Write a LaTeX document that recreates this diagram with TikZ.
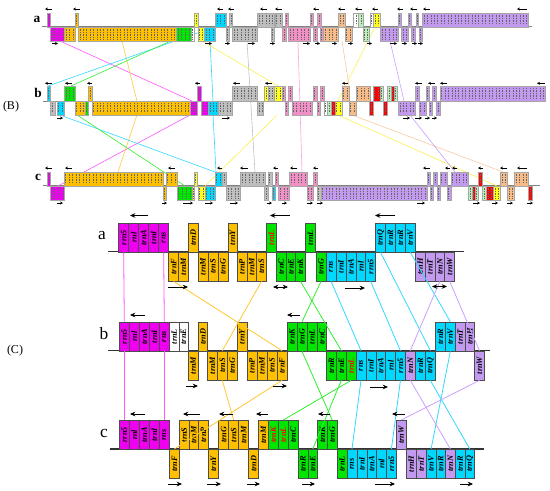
\documentclass[tikz,border=0pt]{standalone}
\usepackage{fontspec}
\setmainfont{Liberation Serif}
\usetikzlibrary{arrows.meta}
\definecolor{cmag}{HTML}{F000F0}
\definecolor{corg}{HTML}{FFC000}
\definecolor{cgrn}{HTML}{00E600}
\definecolor{ccyn}{HTML}{00D8FF}
\definecolor{cgry}{HTML}{BFBFBF}
\definecolor{cpnk}{HTML}{F490C8}
\definecolor{cpch}{HTML}{F8BC88}
\definecolor{clgr}{HTML}{B8F0B8}
\definecolor{cred}{HTML}{FF0000}
\definecolor{cyel}{HTML}{FFFF20}
\definecolor{cpur}{HTML}{C49AF0}
\definecolor{lmag}{HTML}{FF55FF}
\definecolor{lorg}{HTML}{FFC830}
\definecolor{lgrn}{HTML}{30F030}
\definecolor{lcyn}{HTML}{30D8FF}
\definecolor{lyel}{HTML}{F8F050}
\definecolor{lgry}{HTML}{C0C0C0}
\definecolor{lpnk}{HTML}{FFA0D8}
\definecolor{lpch}{HTML}{F8C8A0}
\definecolor{lpur}{HTML}{C8A0FF}
\newcommand\bx[5]{%
  \filldraw[fill=#5,draw=black!35,line width=0.3pt] (#1,#3) rectangle (#2,#4);
  \pgfmathtruncatemacro\bxn{max(1,round((#2-#1)/3.4))}%
  \pgfmathsetmacro\bxw{(#2-#1)/\bxn}%
  \foreach \k in {1,...,\bxn}{\draw[black!60,line width=0.35pt,dash pattern=on 0.8pt off 0.45pt] ({#1+(\k-0.5)*\bxw},{#3+2}) -- ({#1+(\k-0.5)*\bxw},{#4-2});}%
}
% row a of panel B
\newcommand\aU[3]{\bx{#1}{#2}{12.7}{26.7}{#3}}
\newcommand\aL[3]{\bx{#1}{#2}{26.7}{41}{#3}}
\newcommand\bU[3]{\bx{#1}{#2}{86}{101}{#3}}
\newcommand\bL[3]{\bx{#1}{#2}{101}{115}{#3}}
\newcommand\cU[3]{\bx{#1}{#2}{171.7}{185.7}{#3}}
\newcommand\cL[3]{\bx{#1}{#2}{185.7}{200}{#3}}
\newcommand\sla[3]{\draw[sarr] (#2,#3) -- (#1,#3);}
\newcommand\sra[3]{\draw[sarr] (#1,#3) -- (#2,#3);}
\newcommand\G[6]{\node[gene,fill=#5,minimum width={(#3-#2)*0.75pt},anchor=north west] (#1) at (#2,#4) {\rotatebox{90}{#6}};}
\newcommand\R[1]{\textcolor{red}{#1}}
\tikzset{
  sarr/.style={-{Stealth[length=2.2pt,width=2.2pt]},line width=0.4pt,black},
  barr/.style={-{Stealth[length=4pt,width=3.5pt]},line width=0.7pt,black},
  dbarr/.style={{Stealth[length=4pt,width=3.5pt]}-{Stealth[length=4pt,width=3.5pt]},line width=0.7pt,black},
  gene/.style={draw=black!70,line width=0.5pt,inner sep=0pt,minimum height=21.75pt,
    font=\fontsize{6.2}{6.2}\selectfont\bfseries\itshape},
  conn/.style={line width=0.6pt},
  bconn/.style={line width=0.45pt}
}
\begin{document}
\begin{tikzpicture}[x=0.75pt,y=-0.75pt]
\useasboundingbox (0,0) rectangle (550,490);
% ---------------- Panel B -----------------
\node[font=\fontsize{9}{9}\selectfont] (labB) at (11,107) {(B)};
\node[font=\fontsize{10}{10}\selectfont\bfseries] (ra) at (37,19) {a};
\node[font=\fontsize{10}{10}\selectfont\bfseries] (rb) at (38,93) {b};
\node[font=\fontsize{10}{10}\selectfont\bfseries] (rc) at (38,177) {c};
\draw[gray,line width=0.6pt] (41.7,26.7) -- (531.7,26.7);
\draw[gray,line width=0.6pt] (43,101) -- (545,101);
\draw[gray,line width=0.6pt] (43,185.7) -- (540,185.7);
% connectors B
\draw[bconn,lmag] (60,41) -- (192,101);
\draw[bconn,lorg] (122,41) -- (137,101);
\draw[bconn,lcyn] (206,30) -- (48,86);
\draw[bconn,lgrn] (195,30) -- (71,86);
\draw[bconn,lcyn] (210,41) -- (213,101);
\draw[bconn,lyel] (202,41) -- (278,86);
\draw[bconn,lgry] (247,41) -- (255,172);
\draw[bconn,lpnk] (298,41) -- (302,172);
\draw[bconn,lpch] (342,41) -- (349,86);
\draw[bconn,lyel] (375,27) -- (338,101);
\draw[bconn,lpur] (390,41) -- (404,101);
\draw[bconn,lmag] (190,115) -- (58,186);
\draw[bconn,lorg] (137,115) -- (118,172);
\draw[bconn,lcyn] (60,115) -- (215,172);
\draw[bconn,lgrn] (77,115) -- (185,186);
\draw[bconn,lcyn] (213,115) -- (216,172);
\draw[bconn,lyel] (277,115) -- (205,186);
\draw[bconn,lyel] (338,115) -- (497,186);
\draw[bconn,lpch] (352,115) -- (503,172);
\draw[bconn,lpur] (410,115) -- (455,172);
% row a boxes
\aU{46.7}{50}{cmag}\aL{50}{64}{cmag}\aL{64}{75}{corg}\aU{75}{78.3}{corg}
\aL{78.3}{176}{corg}\aL{176}{190.7}{cgrn}\aL{190.7}{194}{white}\aU{194.3}{197.7}{cyel}
\aL{198.3}{204}{cyel}\aL{204}{215}{ccyn}\aU{215}{226}{ccyn}\aL{226}{229.3}{cgry}
\aU{229.3}{232.3}{cgry}\aL{232.3}{257.3}{cgry}\aU{257.3}{274.3}{cgry}\aL{271}{274.3}{cgry}
\aU{275}{281.7}{cgry}\aU{285}{288.3}{cpnk}\aL{282}{285.7}{cpnk}\aL{288.3}{310}{cpnk}
\aU{310}{313.3}{cpnk}\aL{313.3}{316.7}{cpnk}\aU{317.3}{320.7}{cpnk}\aL{320}{323.3}{cpnk}
\aL{323.3}{338.3}{cpch}\aU{338.3}{345}{cpch}\aL{345}{351.7}{cpch}\aU{353.3}{358.3}{white}
\aU{358.3}{363.3}{clgr}\aL{362.7}{369.3}{clgr}\aU{370}{373.3}{white}\aU{373.3}{380}{cyel}
\aL{380}{398.3}{cpur}\aU{398.3}{401}{cpur}\aL{401}{408.3}{cpur}\aU{408.3}{411}{cpur}
\aL{411}{415}{cpur}\aU{415.7}{418.3}{cpur}\aL{419}{422.3}{cpur}\aU{422.3}{528.3}{cpur}
% row b boxes
\bU{46.7}{50}{ccyn}\bL{50}{55}{cgry}\bL{56.7}{64}{ccyn}\bU{64}{75}{cgrn}
\bL{75}{85}{corg}\bL{85}{88.3}{cgrn}\bU{88.3}{91.7}{corg}\bL{91.7}{190}{corg}
\bL{190}{197.3}{cmag}\bU{197.3}{200.7}{cmag}\bL{200.7}{208.3}{cmag}\bL{208.3}{218.3}{ccyn}
\bL{218.3}{232.3}{cgry}\bU{232.3}{256.7}{cgry}\bL{257.3}{263.3}{cgry}\bU{264}{268.3}{cyel}
\bU{268.3}{274}{cgry}\bU{274}{281.7}{cyel}\bU{281.7}{285}{cpnk}\bL{285}{288.3}{cpnk}
\bU{288.3}{292.3}{cpnk}\bL{291.7}{311.7}{cpnk}\bU{312.7}{316.7}{cpnk}\bL{316.7}{320}{cpnk}
\bU{320}{324}{cpnk}\bL{324}{327}{white}\bL{327}{331}{clgr}\bL{331}{335}{cred}
\bL{335}{341.7}{cyel}\bU{341.7}{349}{cpch}\bL{349}{355.7}{cpch}\bU{355.7}{370}{cpch}
\bL{369.3}{372.7}{cred}\bU{372.7}{380}{cred}\bU{380}{383.3}{clgr}\bL{383.3}{386.7}{cred}
\bU{387.3}{390.7}{clgr}\bU{390.7}{394}{cred}\bU{394}{397.3}{clgr}\bL{398.3}{415}{cpur}
\bU{415}{419}{cpur}\bL{419}{425.7}{cpur}\bU{425.7}{429}{cpur}\bL{429}{432.3}{cpur}
\bU{432.3}{435.7}{cpur}\bL{435.7}{440}{cpur}\bU{440}{545}{cpur}
% row c boxes
\cU{46.7}{50}{cmag}\cL{50}{64}{cmag}\cU{64}{163.3}{corg}\cL{162.7}{165.7}{corg}
\cU{165.7}{176.7}{corg}\cL{176.7}{191.7}{cgrn}\cL{191.7}{194}{cyel}\cU{194}{197.3}{cyel}
\cL{197.7}{205}{cyel}\cL{205}{215}{ccyn}\cU{215}{221.7}{ccyn}\cU{221.7}{226}{cgry}
\cL{226}{240}{cgry}\cU{240}{265}{cgry}\cL{264.3}{267.7}{cgry}\cU{267.7}{271.7}{cgry}
\cL{271.7}{275}{ccyn}\cU{275}{278.3}{cpnk}\cL{278.3}{289.3}{cpnk}\cU{289.3}{306.7}{cpnk}
\cL{306.7}{313.3}{cpnk}\cU{313.3}{316.7}{cpnk}\cL{316.7}{320.7}{cgry}\cL{320.7}{426.7}{cpur}
\cU{426.7}{430}{cpur}\cL{430}{433.3}{cpur}\cU{433.3}{436.7}{cpur}\cL{436.7}{440}{cpur}
\cU{440}{446.7}{cpur}\cL{446.7}{450.7}{cpur}\cU{450.7}{468.3}{cpur}\cL{468.3}{471.7}{clgr}
\cL{471.7}{475}{cred}\cL{475}{478.3}{clgr}\cU{478.3}{482.3}{cred}\cL{482.3}{486}{clgr}
\cL{486}{493.3}{cred}\cL{493.3}{500}{cyel}\cU{500}{507.3}{cpch}\cL{507.3}{514}{cpch}
\cU{514}{528.3}{cpch}\cL{528.3}{531.7}{cred}
% small arrows B
\foreach \p/\q in {45/52,73/80,217/223,228/234,260/267,275/282,313/319,338/345,355/362,372/378,397/403,410/417,423/430,517/527}{\sla{\p}{\q}{9}}
\foreach \p/\q in {52/58,205/212,225/230,248/255,270/275,303/310,315/320,332/337,348/353,367/372,390/397,402/407,412/417,418/423}{\sra{\p}{\q}{43.5}}
\foreach \p/\q in {45/52,65/72,87/92,195/200,233/240,265/272,342/348,415/422,428/435,440/447,537/545}{\sla{\p}{\q}{83.3}}
\foreach \p/\q in {57/63,222/230,403/410,415/422,425/430,432/437}{\sra{\p}{\q}{118}}
\foreach \p/\q in {45/52,65/72,168/175,217/222,240/248,273/278,290/297,313/318,423/430,445/450,452/457,478/483,500/507,517/527}{\sla{\p}{\q}{168}}
\foreach \p/\q in {57/63,162/167,183/193,205/213,230/238,267/272,282/287,307/313,317/323,417/425,473/480,492/498,507/513,527/533}{\sra{\p}{\q}{203}}
% ---------------- Panel C -----------------
\node[font=\fontsize{9}{9}\selectfont] (labC) at (15,351) {(C)};
\node[font=\fontsize{13}{13}\selectfont] (la) at (102,236) {a};
\node[font=\fontsize{13}{13}\selectfont] (lb) at (104,334) {b};
\node[font=\fontsize{13}{13}\selectfont] (lc) at (104,433) {c};
\draw[black!80,line width=0.8pt] (108,251.7) -- (464,251.7);
\draw[black!80,line width=0.8pt] (108,350.7) -- (490,350.7);
\draw[black!80,line width=0.8pt] (110,449) -- (484,449);
% row a genes
\G{a1}{118.3}{128.3}{222.7}{cmag}{rrn5}\G{a2}{128.3}{138.3}{222.7}{cmag}{rnl}
\G{a3}{138.3}{148.3}{222.7}{cmag}{trnA}\G{a4}{148.3}{158.3}{222.7}{cmag}{trnI}
\G{a5}{158.3}{168.3}{222.7}{cmag}{rns}
\G{a6}{168.3}{178.3}{251.7}{corg}{trnF}\G{a7}{178.3}{188}{251.7}{corg}{trnM}
\G{a8}{188}{197.7}{222.7}{corg}{trnD}
\G{a9}{197.7}{207.7}{251.7}{corg}{trnM}\G{a10}{207.7}{217.7}{251.7}{corg}{trnS}
\G{a11}{217.7}{227.7}{251.7}{corg}{trnG}
\G{a12}{227.7}{236.7}{222.7}{corg}{trnY}
\G{a13}{236.7}{246.5}{251.7}{corg}{trnP}\G{a14}{246.5}{256.3}{251.7}{corg}{trnM}
\G{a15}{256.3}{266}{251.7}{corg}{trnS}
\G{a16}{266}{276}{222.7}{cgrn}{\R{trnL}}
\G{a17}{276}{285.7}{251.7}{cgrn}{trnC}\G{a18}{285.7}{295.4}{251.7}{cgrn}{trnE}
\G{a19}{295.4}{305}{251.7}{cgrn}{trnK}
\G{a20}{305}{315}{222.7}{cgrn}{trnL}
\G{a21}{315.5}{325.8}{251.7}{cgrn}{trnG}
\G{a22}{325.8}{335.7}{251.7}{ccyn}{rns}\G{a23}{335.7}{345.6}{251.7}{ccyn}{trnI}
\G{a24}{345.6}{355.5}{251.7}{ccyn}{trnA}\G{a25}{355.5}{365.4}{251.7}{ccyn}{rnl}
\G{a26}{365.4}{375.3}{251.7}{ccyn}{rrn5}
\G{a27}{375.3}{385.2}{222.7}{ccyn}{trnQ}\G{a28}{385.2}{395.1}{222.7}{ccyn}{trnR}
\G{a29}{395.1}{405}{222.7}{ccyn}{trnR}\G{a30}{405}{415}{222.7}{ccyn}{trnV}
\G{a31}{415}{424.8}{251.7}{cpur}{trnH}\G{a32}{424.8}{434.6}{251.7}{cpur}{trnT}
\G{a33}{434.6}{444.4}{251.7}{cpur}{trnN}\G{a34}{444.4}{454.3}{251.7}{cpur}{trnW}
% row b genes
\G{b1}{119}{129}{321.7}{cmag}{rrn5}\G{b2}{129}{139}{321.7}{cmag}{rnl}
\G{b3}{139}{149}{321.7}{cmag}{trnA}\G{b4}{149}{159}{321.7}{cmag}{trnI}
\G{b5}{159}{169}{321.7}{cmag}{rns}
\G{b6}{169}{178.5}{321.7}{white}{trnL}\G{b7}{178.5}{188}{321.7}{white}{trnE}
\G{b8}{188}{197.7}{350.7}{corg}{trnM}
\G{b9}{197.7}{207.3}{321.7}{corg}{trnD}
\G{b10}{207.3}{217.1}{350.7}{corg}{trnM}\G{b11}{217.1}{226.9}{350.7}{corg}{trnS}
\G{b12}{226.9}{236.7}{350.7}{corg}{trnG}
\G{b13}{236.7}{246.7}{321.7}{corg}{trnY}
\G{b14}{246.7}{256.7}{350.7}{corg}{trnP}\G{b15}{256.7}{266.7}{350.7}{corg}{trnM}
\G{b16}{266.7}{276.7}{350.7}{corg}{trnS}\G{b17}{276.7}{286.7}{350.7}{corg}{trnF}
\G{b18}{286.7}{296.7}{321.7}{cgrn}{trnK}\G{b19}{296.7}{306.7}{321.7}{cgrn}{trnG}
\G{b20}{306.7}{316.7}{321.7}{cgrn}{trnL}\G{b21}{316.7}{326.3}{321.7}{cgrn}{trnC}
\G{b22}{326.3}{336.1}{350.7}{cgrn}{trnR}\G{b23}{336.1}{345.9}{350.7}{cgrn}{trnE}
\G{b24}{345.9}{355.7}{350.7}{cgrn}{\R{trnL}}
\G{b25}{355.7}{365.6}{350.7}{ccyn}{rns}\G{b26}{365.6}{375.5}{350.7}{ccyn}{trnI}
\G{b27}{375.5}{385.4}{350.7}{ccyn}{trnA}\G{b28}{385.4}{395.2}{350.7}{ccyn}{rnl}
\G{b29}{395.2}{405}{350.7}{ccyn}{rrn5}
\G{b30}{405}{415}{350.7}{cpur}{trnN}
\G{b31}{415}{425}{350.7}{ccyn}{trnR}\G{b32}{425}{435}{350.7}{ccyn}{trnQ}
\G{b33}{435}{445}{321.7}{ccyn}{trnR}\G{b34}{445}{455}{321.7}{ccyn}{trnV}
\G{b35}{455}{464.7}{321.7}{cpur}{trnT}\G{b36}{464.7}{474.3}{321.7}{cpur}{trnH}
\G{b37}{474.3}{484}{350.7}{cpur}{trnW}
% row c genes
\G{c1}{119}{129}{420}{cmag}{rrn5}\G{c2}{129}{139}{420}{cmag}{rnl}
\G{c3}{139}{149}{420}{cmag}{trnA}\G{c4}{149}{159}{420}{cmag}{trnI}
\G{c5}{159}{169}{420}{cmag}{rns}
\G{c6}{169}{179}{449}{corg}{trnF}
\G{c7}{179}{188.6}{420}{corg}{trnS}\G{c8}{188.6}{198.2}{420}{corg}{trnM}
\G{c9}{198.2}{207.8}{420}{corg}{trnP}
\G{c10}{207.8}{218.3}{449}{corg}{trnY}
\G{c11}{218.3}{228.3}{420}{corg}{trnG}\G{c12}{228.3}{238.3}{420}{corg}{trnS}
\G{c13}{238.3}{248.3}{420}{corg}{trnM}
\G{c14}{248.3}{258.3}{449}{corg}{trnD}
\G{c15}{258.3}{268}{420}{corg}{trnM}
\G{c16}{268}{278}{420}{cgrn}{\R{trnK}}\G{c17}{278}{288}{420}{cgrn}{\R{trnL}}
\G{c18}{288}{297.7}{420}{cgrn}{trnC}
\G{c19}{297.7}{307.5}{449}{cgrn}{trnR}\G{c20}{307.5}{317.3}{449}{cgrn}{trnE}
\G{c21}{317.3}{327}{420}{cgrn}{trnK}\G{c22}{327}{336.7}{420}{cgrn}{trnG}
\G{c23}{336.7}{346.7}{449}{cgrn}{trnL}
\G{c24}{346.7}{356.6}{449}{ccyn}{rns}\G{c25}{356.6}{366.5}{449}{ccyn}{trnI}
\G{c26}{366.5}{376.3}{449}{ccyn}{trnA}\G{c27}{376.3}{386.2}{449}{ccyn}{rnl}
\G{c28}{386.2}{396}{449}{ccyn}{rrn5}
\G{c29}{396}{405.7}{420}{cpur}{trnW}
\G{c30}{405.7}{415.8}{449}{cpur}{trnH}\G{c31}{415.8}{426}{449}{cpur}{trnT}
\G{c32}{426}{435.5}{449}{ccyn}{trnV}\G{c33}{435.5}{445}{449}{ccyn}{trnR}
\G{c34}{445}{455}{449}{cpur}{trnN}
\G{c35}{455}{464.7}{449}{ccyn}{trnR}\G{c36}{464.7}{474.3}{449}{ccyn}{trnQ}
% connectors C  a->b
\draw[conn,lmag] (a1.south) -- (b1.north);
\draw[conn,lmag] (a5.south) -- (b5.north);
\draw[conn,lorg] (a6.south) -- (b17.north);
\draw[conn,lorg] (a15.south) -- (b11.north);
\draw[conn,lgrn] (a21.south) -- (b19.north);
\draw[conn,lgrn] (a19.south) -- (b23.north);
\draw[conn,lcyn] (a22.south) -- (b25.north);
\draw[conn,lcyn] (a26.south) -- (b29.north);
\draw[conn,lcyn] (a27.south) -- (b32.north);
\draw[conn,lcyn] (a30.south) -- (b34.north);
\draw[conn,lpur] (a33.south) -- (b30.north);
\draw[conn,lpur] (a34.south) -- (b37.north);
% b->c
\draw[conn,lmag] (b1.south) -- (c1.north);
\draw[conn,lmag] (b5.south) -- (c5.north);
\draw[conn,lorg] (b17.south) -- (c6.north);
\draw[conn,lorg] (b11.south) -- (c12.north);
\draw[conn,lgrn] (b24.south) -- (c17.north);
\draw[conn,lgrn] (b19.south) -- (c22.north);
\draw[conn,lgrn] (b23.south) -- (c20.north);
\draw[conn,lcyn] (b25.south) -- (c24.north);
\draw[conn,lcyn] (b29.south) -- (c28.north);
\draw[conn,lcyn] (b34.south) -- (c32.north);
\draw[conn,lcyn] (b32.south) -- (c36.north);
\draw[conn,lpur] (b30.south) -- (c34.north);
\draw[conn,lpur] (b37.south) -- (c29.north);
% arrows C
\draw[barr] (148,215.5) -- (130,215.5);
\draw[barr] (290,215.5) -- (270,215.5);
\draw[barr] (395,215.5) -- (375,215.5);
\draw[barr] (168,287) -- (188,287);
\draw[dbarr] (273,287) -- (288,287);
\draw[barr] (345,288) -- (365,288);
\draw[dbarr] (432,286.5) -- (447,286.5);
\draw[barr] (145,315) -- (130,315);
\draw[barr] (300,315) -- (287,315);
\draw[barr] (186,386) -- (198,386);
\draw[barr] (273,386) -- (287,386);
\draw[barr] (370,387) -- (388,387);
\foreach \p/\q in {130/145,183/200,219/233,256/268,318/330,392/405}{\draw[barr] (\q,414) -- (\p,414);}
\foreach \p/\q in {168/182,207/221,247/260,302/315,375/395,460/473}{\draw[barr] (\p,484) -- (\q,484);}
\end{tikzpicture}
\end{document}
